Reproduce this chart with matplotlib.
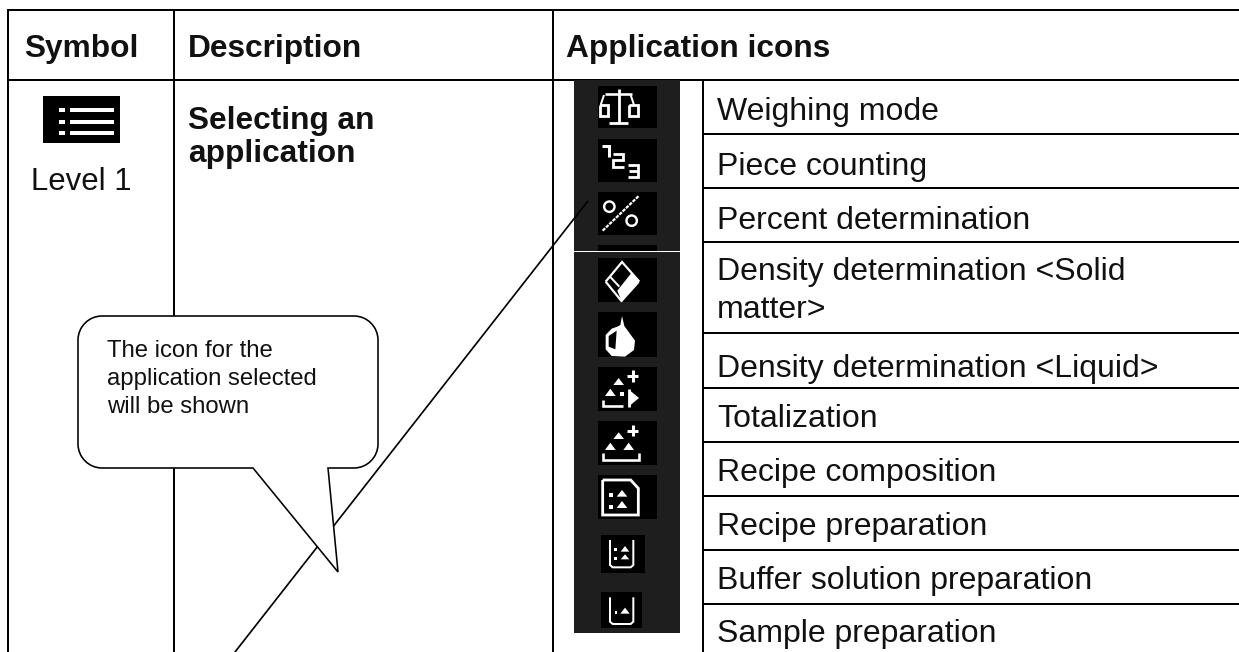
import matplotlib
matplotlib.use("Agg")
import matplotlib.pyplot as plt
from matplotlib.patches import Polygon, Rectangle, Circle, PathPatch
from matplotlib.path import Path

plt.rcParams['font.family'] = ['Liberation Sans', 'DejaVu Sans']

W, H = 1239, 652
headers = ["Symbol", "Description", "Application icons"]
header_x = [24, 188, 566]
level_label = "Level 1"
selecting_lines = ["Selecting an", "application"]
application_labels = ["Weighing mode", "Piece counting", "Percent determination",
                      "Density determination <Solid", "matter>",
                      "Density determination <Liquid>", "Totalization",
                      "Recipe composition", "Recipe preparation",
                      "Buffer solution preparation", "Sample preparation"]
application_baselines = [120, 175, 229, 280, 318, 377, 427, 481, 535, 589, 642]
row_edges = [134, 188, 242, 332.5, 387.5, 442, 495.5, 550, 603.5]
callout_lines = ["The icon for the", "application selected", "will be shown"]
callout_baselines = [357, 385, 413]
icon_boxes = [(598, 657, 86, 128), (598, 657, 139, 182), (598, 657, 192, 235),
              (598, 657, 245, 251), (598, 657, 258, 302), (598, 657, 312, 357),
              (598, 657, 367, 411), (598, 657, 421, 465), (598, 657, 475, 519),
              (601, 645, 535, 573), (601, 642, 592, 628)]

fig = plt.figure(figsize=(W / 100, H / 100), dpi=100)
ax = fig.add_axes([0, 0, 1, 1])
ax.set_xlim(0, W)
ax.set_ylim(H, 0)
ax.axis('off')

PX = 0.72
INK = '#000000'
TXT = '#111111'
HDR = 22.8
BODY = 23.0

def hline(y, x0, x1, lw=2.0, z=2):
    ax.plot([x0, x1], [y, y], color=INK, lw=lw * PX, solid_capstyle='butt', zorder=z)

def vline(x, y0, y1, lw=2.0, z=2):
    ax.plot([x, x], [y0, y1], color=INK, lw=lw * PX, solid_capstyle='butt', zorder=z)

# table grid
hline(10, 7, W)
hline(80, 7, W)
vline(8, 9, H)
vline(174, 9, H)
vline(553, 9, H)
vline(703, 80, H)
for y in row_edges:
    hline(y, 703, W)

# headers
for s, x in zip(headers, header_x):
    ax.text(x, 57, s, fontsize=HDR, fontweight='bold', color=TXT, va='baseline', ha='left', zorder=5)
ax.text(31, 190, level_label, fontsize=22.4, color=TXT, va='baseline', zorder=5)
ax.text(188, 129, selecting_lines[0], fontsize=HDR, fontweight='bold', color=TXT, va='baseline', zorder=5)
ax.text(188, 162, selecting_lines[1], fontsize=HDR, fontweight='bold', color=TXT, va='baseline', zorder=5)

# menu symbol
ax.add_patch(Rectangle((43, 96), 77, 47, fc='black', ec='none', zorder=3))
for y in (110, 121.5, 133):
    ax.add_patch(Rectangle((59, y - 2), 6, 4, fc='white', ec='none', zorder=4))
    ax.add_patch(Rectangle((70, y - 2), 44, 4, fc='white', ec='none', zorder=4))

# application rows
for s, y in zip(application_labels, application_baselines):
    ax.text(717, y, s, fontsize=BODY, color=TXT, va='baseline', zorder=5)

# icon panel
ax.add_patch(Rectangle((574, 80), 106, 553, fc='#1e1e1e', ec='none', zorder=3))
for x0, x1, y0, y1 in icon_boxes:
    ax.add_patch(Rectangle((x0, y0), x1 - x0, y1 - y0, fc='black', ec='none', zorder=4))
ax.add_patch(Rectangle((574, 251), 106, 1.4, fc='white', ec='none', zorder=4))

def Z(ox, oy):
    return lambda pts: [(ox + x / 3, oy + y / 3) for x, y in pts]

z1, z2, z5 = Z(560, 80), Z(560, 270), Z(560, 460)

def stroke(pts, lw=2.8, closed=False):
    p = list(pts) + ([pts[0]] if closed else [])
    ax.plot([a for a, _ in p], [b for _, b in p], color='white', lw=lw * PX,
            solid_joinstyle='miter', solid_capstyle='butt', zorder=6)

def fill(pts, c='white', z=6):
    ax.add_patch(Polygon(pts, closed=True, fc=c, ec='none', zorder=z))

# balance
stroke(z1([(176, 28), (176, 128)]), 2.8)
stroke(z1([(135, 42), (215, 42)]), 2.6)
stroke(z1([(148, 130), (205, 130)]), 2.8)
stroke(z1([(120, 75), (120, 108), (145, 108), (145, 75), (120, 75)]), 2.8)
stroke(z1([(207, 75), (207, 108), (233, 108), (233, 75), (207, 75)]), 2.8)
stroke(z1([(122, 75), (132, 45)]), 2.0)
stroke(z1([(222, 75), (212, 45)]), 2.0)
# 1 2 3
stroke(z1([(125, 197), (146, 197), (146, 230)]), 3.0)
stroke(z1([(160, 222), (188, 222), (188, 241), (160, 241), (160, 260), (192, 260)]), 2.8)
stroke(z1([(203, 255), (235, 255), (235, 292), (203, 292)]), 2.8)
stroke(z1([(208, 273), (235, 273)]), 2.8)
# percent
ax.plot(*zip(*z1([(128, 452), (236, 348)])), color='white', lw=2.2 * PX,
        linestyle=(0, (1.6, 0.5)), zorder=6)
for cx, cy in z1([(148, 380), (215, 422)]):
    ax.add_patch(Circle((cx, cy), 5.2, fc='none', ec='white', lw=2.4 * PX, zorder=6))
# diamond
stroke(z2([(137, 35), (186, -24), (238, 35)]), 2.2)
stroke(z2([(137, 35), (186, 95)]), 2.2)
stroke(z2([(150, 20), (178, 50)]), 2.0)
fill(z2([(215, 8), (238, 38), (186, 96), (172, 62)]))
# drop
fill(z2([(186, 138), (193, 168), (225, 212), (222, 240), (195, 260), (155, 258),
         (137, 238), (137, 195), (155, 176), (172, 170), (181, 165)]))
fill(z2([(146, 198), (170, 182), (166, 238), (146, 230)]), 'black', 7)
# plus / triangles / tray
def plus(c, a=17):
    stroke(z2([(c[0] - a, c[1]), (c[0] + a, c[1])]), 3.0)
    stroke(z2([(c[0], c[1] - a), (c[0], c[1] + a)]), 3.0)

def tri(fn, cx, top, bottom, half=16):
    fill(fn([(cx, top), (cx + half, bottom), (cx - half, bottom)]))

plus((218, 318))
tri(z2, 176, 324, 345)
tri(z2, 151, 356, 378)
fill(z2([(181, 367), (191, 367), (191, 377), (181, 377)]))
stroke(z2([(128, 390), (128, 408), (190, 408)]), 2.6)
stroke(z2([(206, 358), (206, 410)]), 2.8)
fill(z2([(208, 360), (237, 384), (208, 408)]))
plus((218, 482))
tri(z2, 176, 487, 507)
tri(z2, 151, 518, 540)
tri(z2, 206, 518, 540)
stroke(z2([(128, 550), (128, 570), (236, 570), (236, 550)]), 2.6)
# document
stroke(z5([(128, 60), (212, 60), (235, 85), (235, 165), (128, 165)]), 2.8, closed=True)
for x, y in [(153, 105), (153, 140)]:
    fill(z5([(x - 6, y - 6), (x + 6, y - 6), (x + 6, y + 6), (x - 6, y + 6)]))
tri(z5, 186, 90, 110)
tri(z5, 186, 123, 144)
# beakers
stroke(z5([(150, 240), (150, 315), (158, 322), (212, 322), (220, 315), (220, 240)]), 2.0)
for x, y in [(167, 268), (167, 295)]:
    fill(z5([(x - 4, y - 4), (x + 4, y - 4), (x + 4, y + 4), (x - 4, y + 4)]))
tri(z5, 195, 258, 275, 13)
tri(z5, 195, 283, 298, 13)
stroke(z5([(150, 412), (150, 485), (158, 492), (212, 492), (220, 485), (220, 412)]), 2.0)
fill(z5([(164, 453), (172, 453), (172, 461), (164, 461)]))
tri(z5, 195, 443, 461, 14)

# leader line
ax.plot([587.5, 235], [201.5, 652], color=INK, lw=1.7 * PX, zorder=8)

# callout
x0, x1, y0, y1, r = 78, 378, 316, 468, 24
k = 0.45 * r
verts = [(x0 + r, y0), (x1 - r, y0),
         (x1 - k, y0), (x1, y0 + k), (x1, y0 + r),
         (x1, y1 - r),
         (x1, y1 - k), (x1 - k, y1), (x1 - r, y1),
         (328, y1), (338, 572), (253, y1),
         (x0 + r, y1),
         (x0 + k, y1), (x0, y1 - k), (x0, y1 - r),
         (x0, y0 + r),
         (x0, y0 + k), (x0 + k, y0), (x0 + r, y0), (x0 + r, y0)]
codes = [Path.MOVETO, Path.LINETO,
         Path.CURVE4, Path.CURVE4, Path.CURVE4,
         Path.LINETO,
         Path.CURVE4, Path.CURVE4, Path.CURVE4,
         Path.LINETO, Path.LINETO, Path.LINETO,
         Path.LINETO,
         Path.CURVE4, Path.CURVE4, Path.CURVE4,
         Path.LINETO,
         Path.CURVE4, Path.CURVE4, Path.CURVE4,
         Path.CLOSEPOLY]
ax.add_patch(PathPatch(Path(verts, codes), fc='white', ec=INK, lw=1.6 * PX, zorder=9,
                       joinstyle='miter'))
for s, y in zip(callout_lines, callout_baselines):
    ax.text(107, y, s, fontsize=17.2, color=TXT, va='baseline', zorder=10)

fig.savefig('out.png', dpi=100)
